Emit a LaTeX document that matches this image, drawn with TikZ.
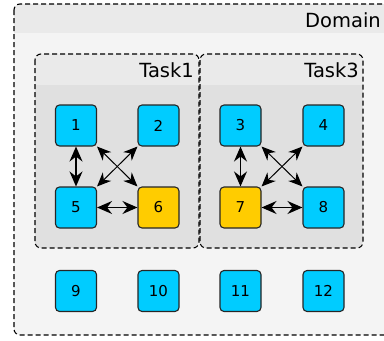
\documentclass[tikz,border=0pt]{standalone}
\usepackage{fontspec}
\setmainfont{DejaVu Sans}
\usetikzlibrary{arrows.meta}
\definecolor{cyanbox}{HTML}{00CCFF}
\definecolor{yellowbox}{HTML}{FFCC00}
\definecolor{domhead}{HTML}{EAEAEA}
\definecolor{dombody}{HTML}{F4F4F4}
\definecolor{taskhead}{HTML}{EAEAEA}
\definecolor{taskbody}{HTML}{E0E0E0}
\tikzset{
  cell/.style={draw=black!85, line width=1.1pt, rounded corners=4pt, minimum width=41pt, minimum height=41pt, inner sep=0pt, font=\fontsize{15}{15}\selectfont, text=black},
  cyancell/.style={cell, fill=cyanbox},
  yellowcell/.style={cell, fill=yellowbox},
  frame/.style={draw=black, line width=1.1pt, dash pattern=on 5pt off 3pt, rounded corners=6pt},
  link/.style={line width=1.3pt, {Stealth[length=15pt,width=13pt,inset=5pt]}-{Stealth[length=15pt,width=13pt,inset=5pt]}},
  diaglink/.style={line width=1pt, {Stealth[length=14pt,width=12pt,inset=4.5pt]}-{Stealth[length=14pt,width=12pt,inset=4.5pt]}},
  title/.style={font=\fontsize{19.5}{20}\selectfont, anchor=base east, inner sep=0pt}
}
\begin{document}
\begin{tikzpicture}[x=1pt,y=-1pt]
\useasboundingbox (0,0) rectangle (384,341);
\begin{scope}
\clip (0,0) rectangle (384,341);
% Domain
\begin{scope}
\clip[rounded corners=6pt] (14,4) rectangle (390,335);
\fill[dombody] (14,4) rectangle (390,335);
\fill[domhead] (14,4) rectangle (390,33);
\end{scope}
\draw[frame] (14,4) rectangle (390,335);
\end{scope}
\node[title] (domain) at (381,27) {Domain};
% Task1
\begin{scope}
\clip[rounded corners=6pt] (35,54) rectangle (199,248);
\fill[taskbody] (35,54) rectangle (199,248);
\fill[taskhead] (35,54) rectangle (199,85);
\end{scope}
\draw[frame] (35,54) rectangle (199,248);
\node[title] (task1) at (194,77) {Task1};
% Task3
\begin{scope}
\clip[rounded corners=6pt] (200,54) rectangle (363,248);
\fill[taskbody] (200,54) rectangle (363,248);
\fill[taskhead] (200,54) rectangle (363,85);
\end{scope}
\draw[frame] (200,54) rectangle (363,248);
\node[title] (task3) at (359,77) {Task3};
% cells
\node[cyancell] (n1) at (76,125.5) {1};
\node[cyancell] (n2) at (158.5,125.5) {2};
\node[cyancell] (n5) at (76,207.5) {5};
\node[yellowcell] (n6) at (158.5,207.5) {6};
\node[cyancell] (n3) at (240.5,125.5) {3};
\node[cyancell] (n4) at (323.5,125.5) {4};
\node[yellowcell] (n7) at (240.5,207.5) {7};
\node[cyancell] (n8) at (323.5,207.5) {8};
\node[cyancell] (n9) at (76,291) {9};
\node[cyancell] (n10) at (158.5,291) {10};
\node[cyancell] (n11) at (240.5,291) {11};
\node[cyancell] (n12) at (323.5,291) {12};
% links
\draw[link] (n1) -- (n5);
\draw[link] (n5) -- (n6);
\draw[diaglink] (n1.south east) -- (n6.north west);
\draw[diaglink] (n2.south west) -- (n5.north east);
\draw[link] (n3) -- (n7);
\draw[link] (n7) -- (n8);
\draw[diaglink] (n3.south east) -- (n8.north west);
\draw[diaglink] (n4.south west) -- (n7.north east);
\end{tikzpicture}
\end{document}
